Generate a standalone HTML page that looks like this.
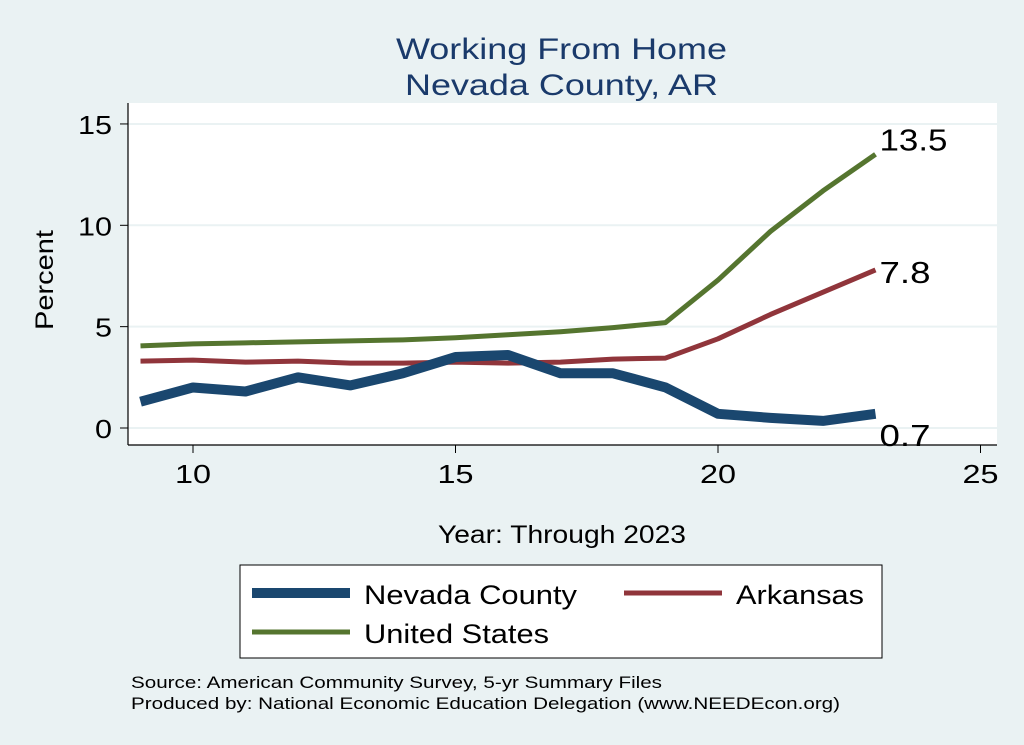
<!DOCTYPE html>
<html><head><meta charset="utf-8"><style>
body{margin:0;background:#eaf2f3;font-family:"Liberation Sans",sans-serif}
svg{display:block}
</style></head><body>
<svg width="1024" height="745" viewBox="0 0 1024 745" xmlns="http://www.w3.org/2000/svg">
<rect x="0" y="0" width="1024" height="745" fill="#eaf2f3"/>
<text x="396" y="59" font-size="30" fill="#1a3a6b" textLength="331" lengthAdjust="spacingAndGlyphs">Working From Home</text>
<text x="405" y="95" font-size="30" fill="#1a3a6b" textLength="313" lengthAdjust="spacingAndGlyphs">Nevada County, AR</text>
<rect x="128" y="103" width="869" height="342" fill="#ffffff"/>
<g id="grid"></g>
<line x1="128" y1="103" x2="128" y2="445" stroke="#000" stroke-width="1.2"/>
<line x1="128" y1="445" x2="997" y2="445" stroke="#000" stroke-width="1.2"/>
<g id="ticks"></g>
<g id="series"></g>
<text x="0" y="0" font-size="25" transform="translate(53 330) rotate(-90)" textLength="100" lengthAdjust="spacingAndGlyphs">Percent</text>
<text x="438" y="543" font-size="25" textLength="248" lengthAdjust="spacingAndGlyphs">Year: Through 2023</text>
<g>
<rect x="240" y="565" width="642" height="93" fill="#fff" stroke="#000" stroke-width="1"/>
<line x1="252" y1="593" x2="350" y2="593" stroke="#1a476f" stroke-width="10"/>
<text x="364" y="604" font-size="27" textLength="213" lengthAdjust="spacingAndGlyphs">Nevada County</text>
<line x1="624" y1="593" x2="722" y2="593" stroke="#90353b" stroke-width="5"/>
<text x="736" y="604" font-size="27" textLength="128" lengthAdjust="spacingAndGlyphs">Arkansas</text>
<line x1="252" y1="632" x2="350" y2="632" stroke="#55752f" stroke-width="5"/>
<text x="364" y="643" font-size="27" textLength="185" lengthAdjust="spacingAndGlyphs">United States</text>
</g>
<text x="131" y="688" font-size="17" textLength="531" lengthAdjust="spacingAndGlyphs">Source: American Community Survey, 5-yr Summary Files</text>
<text x="131" y="709" font-size="17" textLength="709" lengthAdjust="spacingAndGlyphs">Produced by: National Economic Education Delegation (www.NEEDEcon.org)</text>
</svg>
<script>
const years=[9,10,11,12,13,14,15,16,17,18,19,20,21,22,23];
const nevada=[1.3,2.0,1.8,2.5,2.1,2.7,3.5,3.6,2.7,2.7,2.0,0.7,0.5,0.35,0.7];
const arkansas=[3.3,3.35,3.25,3.3,3.2,3.2,3.25,3.2,3.25,3.4,3.45,4.4,5.6,6.7,7.8];
const us=[4.05,4.15,4.2,4.25,4.3,4.35,4.45,4.6,4.75,4.95,5.2,7.3,9.7,11.7,13.5];
const xTicks=[10,15,20,25];
const yTicks=[0,5,10,15];
const NS="http://www.w3.org/2000/svg";
const xs=v=>193+(v-10)*52.5;
const ys=v=>428-v*20.27;
const grid=document.getElementById('grid'),ticks=document.getElementById('ticks'),ser=document.getElementById('series');
function mk(t,a,p){const e=document.createElementNS(NS,t);for(const k in a)e.setAttribute(k,a[k]);p.appendChild(e);return e;}
yTicks.forEach(v=>{
 const g=mk('line',{x1:128,x2:997,y1:ys(v),y2:ys(v),stroke:'#eaf2f3','stroke-width':2},grid);
 
 
 const t=mk('line',{x1:120,x2:128,y1:ys(v),y2:ys(v),stroke:'#000'},ticks);
 
 
 const s=String(v);
 const l=mk('text',{x:112-s.length*17,y:ys(v)+10,'font-size':26,textLength:s.length*17,lengthAdjust:'spacingAndGlyphs'},ticks);l.textContent=s;
 
 
});
xTicks.forEach(v=>{
 const t=mk('line',{x1:xs(v),x2:xs(v),y1:445,y2:453,stroke:'#000'},ticks);
 
 
 const l=mk('text',{x:xs(v)-18,y:483,'font-size':26,textLength:36,lengthAdjust:'spacingAndGlyphs'},ticks);l.textContent=v;
 
 
});
function line(vals,color,w,name,labelDy){
 const p=mk('polyline',{points:years.map((y,i)=>xs(y)+','+ys(vals[i])).join(' '),fill:'none',stroke:color,'stroke-width':w,'stroke-linejoin':'round'},ser);
 
 
 const last=vals[vals.length-1];
 const s=last.toFixed(1);
 const l=mk('text',{x:xs(years[years.length-1])+4,y:ys(last)+labelDy,'font-size':31,textLength:s.length*17,lengthAdjust:'spacingAndGlyphs'},ser);l.textContent=s;
 
 
}
line(us,'#55752f',5,'line-united-states',-4);
line(arkansas,'#90353b',5,'line-arkansas',13);
line(nevada,'#1a476f',10,'line-nevada-county',32);
</script>
</body></html>
